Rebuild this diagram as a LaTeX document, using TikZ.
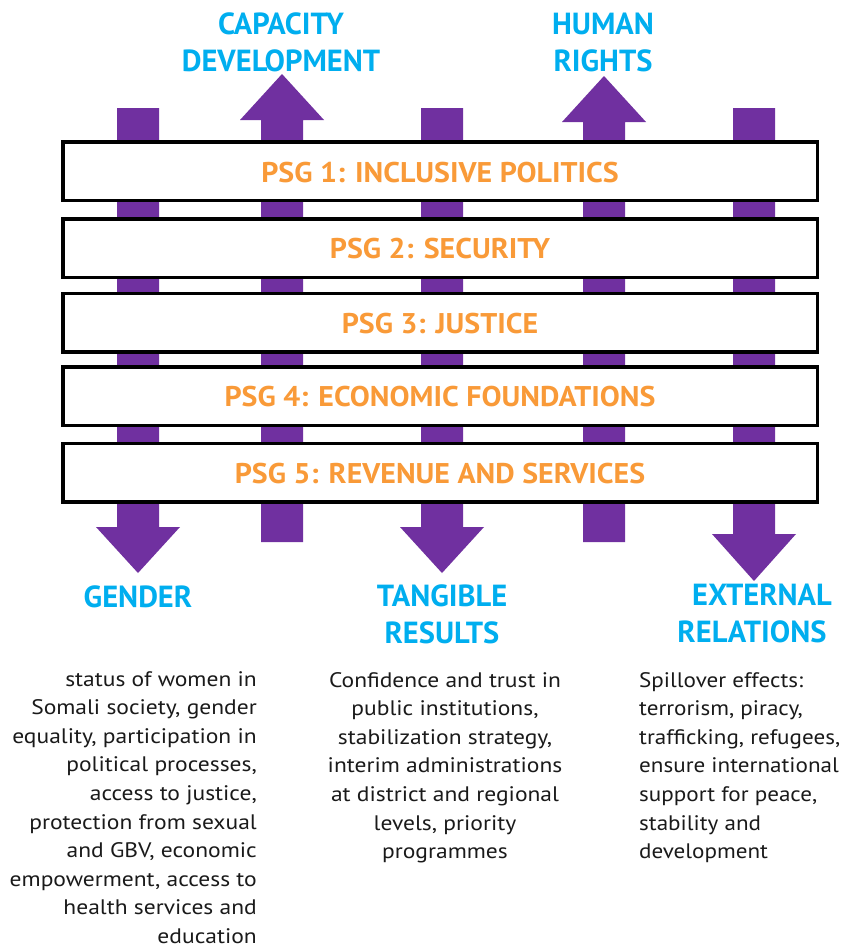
\documentclass[tikz,border=0pt]{standalone}
\usepackage{fontspec}
\setmainfont{PT Sans}
\newfontfamily\bodyfont[FakeStretch=1.12]{PT Sans}
\newfontfamily\bodyfontb[FakeStretch=1.10]{PT Sans}
\newfontfamily\psgfont[FakeStretch=1.05]{PT Sans}
\definecolor{barpurple}{HTML}{7030A0}
\definecolor{psgorange}{HTML}{F99A38}
\definecolor{labblue}{HTML}{00AEEF}
\definecolor{bodytext}{HTML}{1A1A1A}
\tikzset{
  bar/.style={fill=barpurple},
  psgbox/.style={draw=black, fill=white, line width=3.5pt, minimum width=754.5pt, minimum height=58.5pt, inner sep=0pt,
    text height=20pt, text depth=0pt,
    font=\psgfont\fontsize{28.5}{30}\selectfont\bfseries, text=psgorange},
  psgtext/.style={inner sep=0pt, text height=20pt, text depth=0pt,
    font=\psgfont\fontsize{28.5}{30}\selectfont\bfseries, text=psgorange},
  lab/.style={align=center, inner sep=0pt, text=labblue, font=\fontsize{30.5}{37}\selectfont\bfseries},
  body/.style={inner sep=0pt, text=bodytext, font=\bodyfont\fontsize{21}{28.6}\selectfont}
}
\begin{document}
\begin{tikzpicture}[x=1pt,y=-1pt]
\useasboundingbox (0,0) rectangle (843,945);
\fill[white] (0,0) rectangle (843,945);
% bars: down arrows (1,3,5)
\fill[bar] (117,108) -- (159,108) -- (159,527) -- (180,527) -- (138,573) -- (96,527) -- (117,527) -- cycle;
\fill[bar] (421,108) -- (463,108) -- (463,527) -- (484,527) -- (442,573) -- (400,527) -- (421,527) -- cycle;
\fill[bar] (733,108) -- (775,108) -- (775,534) -- (796,534) -- (754,581) -- (712,534) -- (733,534) -- cycle;
% bars: up arrows (2,4)
\fill[bar] (261,542) -- (303,542) -- (303,120) -- (324,120) -- (282,74) -- (240,120) -- (261,120) -- cycle;
\fill[bar] (583,542) -- (625,542) -- (625,122) -- (646,122) -- (604,76) -- (562,122) -- (583,122) -- cycle;
% PSG boxes
\node[psgbox] (psg1) at (440,171) {};
\node[psgbox] (psg2) at (440,248) {};
\node[psgbox] (psg3) at (440,322.5) {};
\node[psgbox] (psg4) at (440,396) {};
\node[psgbox] (psg5) at (440,472.5) {};
\node[psgtext] (t1) at (440,172) {PSG 1: INCLUSIVE POLITICS};
\node[psgtext] (t2) at (440,248.5) {PSG 2: SECURITY};
\node[psgtext] (t3) at (440,323) {PSG 3: JUSTICE};
\node[psgtext] (t4) at (440,396.5) {PSG 4: ECONOMIC FOUNDATIONS};
\node[psgtext] (t5) at (440,473) {PSG 5: REVENUE AND SERVICES};
% labels
\node[lab] (capdev) at (281,42.5) {CAPACITY\\DEVELOPMENT};
\node[lab] (hr) at (603,42.5) {HUMAN\\RIGHTS};
\node[lab] (gender) at (138,597) {GENDER};
\node[lab] (tangible) at (442,614.5) {TANGIBLE\\RESULTS};
\node[lab] (external) at (752,613.5) {\hspace*{20pt}EXTERNAL\\RELATIONS};
% body texts
\node[body, align=right, anchor=north east] (gtext) at (257,671) {status of women in\\Somali society, gender\\equality, participation in\\political processes,\\access to justice,\\protection from sexual\\and GBV, economic\\empowerment, access to\\health services and\\education};
\node[body, align=center, anchor=north] (ttext) at (445,672) {Confidence and trust in\\public institutions,\\stabilization strategy,\\interim administrations\\at district and regional\\levels, priority\\programmes};
\node[body, align=left, anchor=north west, font=\bodyfontb\fontsize{21}{28.6}\selectfont] (etext) at (639,672) {Spillover effects:\\terrorism, piracy,\\trafficking, refugees,\\ensure international\\support for peace,\\stability and\\development};
\end{tikzpicture}
\end{document}
